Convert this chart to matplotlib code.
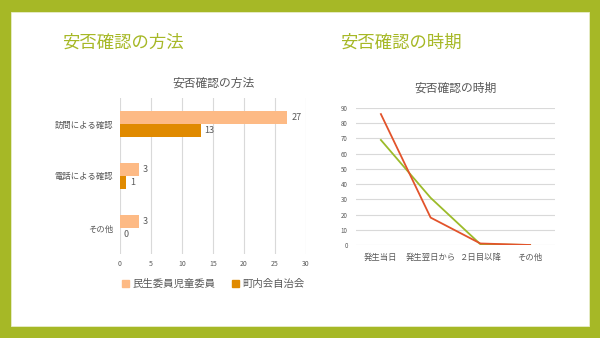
import matplotlib.pyplot as plt
from matplotlib.patches import Rectangle, Patch
import numpy as np

plt.rcParams['font.family'] = ['Noto Sans CJK JP', 'DejaVu Sans']

# bar chart data
methods = ['訪問による確認', '電話による確認', 'その他']
minsei = [27, 3, 3]
chonai = [13, 1, 0]
bar_series = ['民生委員児童委員', '町内会自治会']

# line chart data
timing = ['発生当日', '発生翌日から', '２日目以降', 'その他']
red_line = [86, 18, 1, 0]
green_line = [69, 31, 0.5, 0]

W, H = 600, 338
green = '#a6b826'
grey = '#595959'
light = '#fdba85'
dark = '#e08a00'


def box(x0, y0, x1, y1):
    # pixel box -> figure coords
    return [x0 / W, 1 - y1 / H, (x1 - x0) / W, (y1 - y0) / H]


fig = plt.figure(figsize=(6, 3.38), dpi=100, facecolor=green)
fig.patches.append(Rectangle((11 / W, 1 - 326 / H), (589 - 11) / W, (326 - 12) / H,
                             transform=fig.transFigure, facecolor='white',
                             edgecolor='#e8eecb', lw=0.6, zorder=-5))

fig.text(62 / W, 1 - 43 / H, '安否確認の方法', color=green, fontsize=12.5, va='center')
fig.text(340 / W, 1 - 43 / H, '安否確認の時期', color=green, fontsize=12.5, va='center')

# --- bar chart ---
ax = fig.add_axes(box(120, 98, 306, 254))
ax.patch.set_alpha(0)
y = np.arange(len(methods))
h = 0.25
ax.barh(y - h / 2, minsei, height=h, color=light)
ax.barh(y + h / 2, chonai, height=h, color=dark)
for i in range(len(methods)):
    ax.text(minsei[i] + 0.6, y[i] - h / 2, str(minsei[i]), va='center', fontsize=6.5, color=grey)
    ax.text(chonai[i] + 0.6, y[i] + h / 2, str(chonai[i]), va='center', fontsize=6.5, color=grey)
ax.set_xlim(0, 30)
ax.set_ylim(2.5, -0.5)
ax.set_xticks(range(0, 31, 5))
ax.set_yticks(y)
ax.set_yticklabels(methods)
ax.tick_params(axis='x', labelsize=5, colors=grey, length=0, pad=4)
ax.tick_params(axis='y', labelsize=6, colors=grey, length=0, pad=5)
ax.grid(axis='x', color='#d9d9d9', lw=0.8)
ax.set_axisbelow(True)
for s in ax.spines.values():
    s.set_visible(False)
ax.set_title('安否確認の方法', fontsize=8.5, color=grey, pad=8)

handles = [Patch(color=light), Patch(color=dark)]
fig.legend(handles, bar_series, loc='center', bbox_to_anchor=(213 / W, 1 - 284 / H),
           ncol=2, frameon=False, fontsize=7.5, labelcolor=grey,
           handlelength=0.7, handleheight=0.7, handletextpad=0.3, columnspacing=1.6)

# --- line chart ---
ax2 = fig.add_axes(box(356, 108, 555, 245))
ax2.patch.set_alpha(0)
x = np.arange(len(timing))
ax2.plot(x, green_line, color='#9cbb2a', lw=1.3)
ax2.plot(x, red_line, color='#e2532b', lw=1.3)
ax2.set_xlim(-0.5, 3.5)
ax2.set_ylim(0, 90)
ax2.set_yticks(range(0, 91, 10))
ax2.set_xticks(x)
ax2.set_xticklabels(timing)
ax2.tick_params(axis='y', labelsize=4.5, colors=grey, length=0, pad=6)
ax2.tick_params(axis='x', labelsize=6, colors=grey, length=0, pad=6)
ax2.grid(axis='y', color='#d9d9d9', lw=0.8)
ax2.set_axisbelow(True)
for s in ax2.spines.values():
    s.set_visible(False)
ax2.set_title('安否確認の時期', fontsize=8.5, color=grey, pad=12)

fig.savefig('out.png', dpi=100, facecolor=green)
